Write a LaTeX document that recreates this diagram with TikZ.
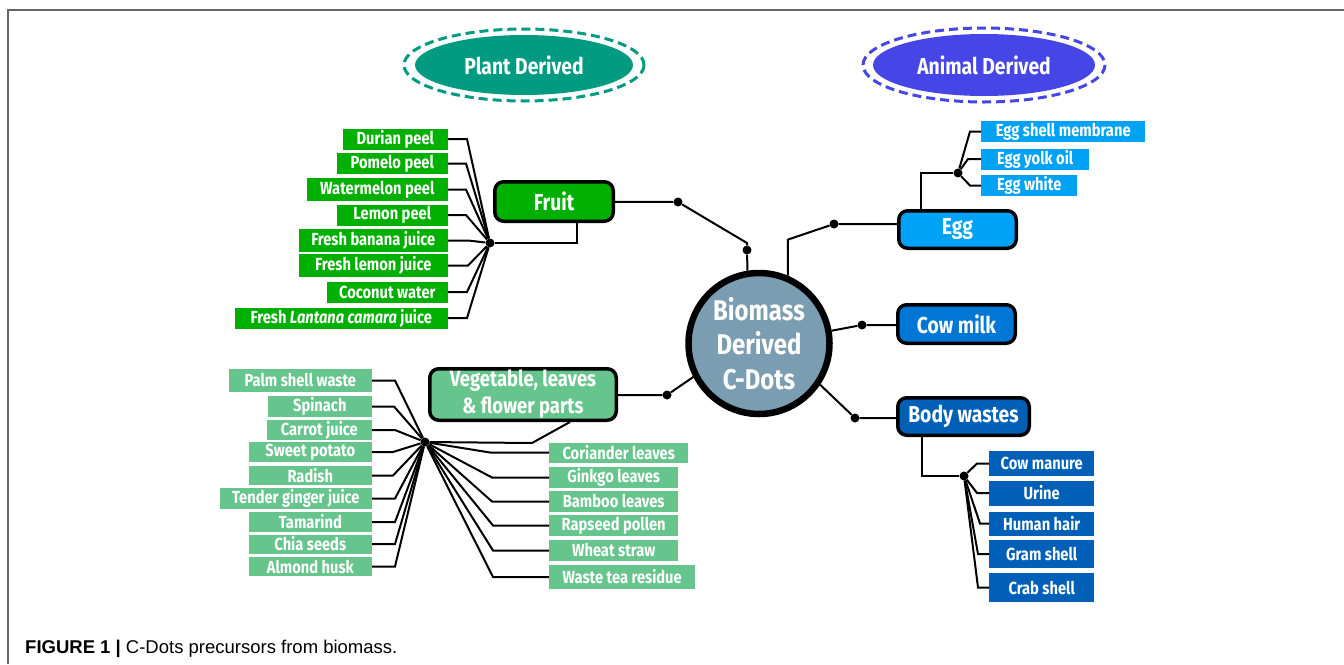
\documentclass[tikz,border=0pt]{standalone}
\usepackage{fontspec}
\setmainfont{Fira Sans}
\newfontfamily\figfont[FakeStretch=0.84]{Fira Sans}
\newfontfamily\capfont{Liberation Sans}
\usetikzlibrary{shapes.geometric}

\definecolor{plantcol}{HTML}{009B80}
\definecolor{animalcol}{HTML}{4646E6}
\definecolor{fruitcol}{HTML}{00B000}
\definecolor{vegcol}{HTML}{66C58C}
\definecolor{eggcol}{HTML}{00A2F5}
\definecolor{milkcol}{HTML}{0077D4}
\definecolor{bodycol}{HTML}{0060B8}
\definecolor{corecol}{HTML}{7A9DB2}

\tikzstyle{leaf} = [rectangle, inner sep=0pt, minimum height=21, text=white, font=\figfont\bfseries\fontsize{17.5}{17.5}\selectfont]
\tikzstyle{branch} = [rectangle, rounded corners=9, draw=black, line width=3.5, inner sep=0pt, text=white, font=\figfont\bfseries\fontsize{23}{23}\selectfont]
\tikzstyle{tag} = [ellipse, inner sep=0pt, minimum width=218, minimum height=60, text=white, font=\figfont\bfseries\fontsize{23}{23}\selectfont]
\tikzstyle{ring} = [line width=3, dash pattern=on 9 off 5]
\tikzstyle{joint} = [circle, fill=black, inner sep=0pt, minimum size=9]
\tikzstyle{link} = [line width=2]

\begin{document}
\begin{tikzpicture}[x=1pt,y=-1pt]
		\useasboundingbox (0,0) rectangle (1344,664);
		\draw[black!60, line width=1.5] (8,664) -- (8,10) -- (1344,10);
		% headings
		\draw[ring, draw=plantcol] (524,65) ellipse [x radius=120, y radius=36];
		\node[tag, fill=plantcol] (plant) at (524,65) {Plant Derived};
		\draw[ring, draw=animalcol] (984,65) ellipse [x radius=121, y radius=37];
		\node[tag, fill=animalcol, minimum width=222, minimum height=62] (animal) at (984,65) {Animal Derived};
		% centre and main groups
		\node[circle, draw=black, line width=6.5, fill=corecol, minimum size=141, inner sep=0pt, align=center, text=white, font=\figfont\bfseries\fontsize{28.5}{34.5}\selectfont] (core) at (759,343.5) {Biomass\\Derived\\C-Dots};
		\node[branch, fill=fruitcol, minimum width=118.5, minimum height=39.5] (fruit) at (554,201.5) {Fruit};
		\node[branch, fill=vegcol, minimum width=186.5, minimum height=51.5, align=center, font=\figfont\bfseries\fontsize{22}{27}\selectfont] (veg) at (523,394.5) {Vegetable, leaves\\\& flower parts};
		\node[branch, fill=eggcol, minimum width=117.5, minimum height=37.5] (egg) at (957.5,229.5) {Egg};
		\node[branch, fill=milkcol, minimum width=117.5, minimum height=38.5] (milk) at (956.5,324) {Cow milk};
		\node[branch, fill=bodycol, minimum width=131.5, minimum height=37.5] (body) at (963.5,416.5) {Body wastes};
		% fruit
		\node[leaf, fill=fruitcol, anchor=east, minimum width=105] (f1) at (448,139) {Durian peel};
		\node[leaf, fill=fruitcol, anchor=east, minimum width=111] (f2) at (448,163.5) {Pomelo peel};
		\node[leaf, fill=fruitcol, anchor=east, minimum width=141, minimum height=23] (f3) at (448,189.5) {Watermelon peel};
		\node[leaf, fill=fruitcol, anchor=east, minimum width=111] (f4) at (448,215) {Lemon peel};
		\node[leaf, fill=fruitcol, anchor=east, minimum width=149, minimum height=23] (f5) at (448,240.5) {Fresh banana juice};
		\node[leaf, fill=fruitcol, anchor=east, minimum width=149, minimum height=23] (f6) at (448,265.5) {Fresh lemon juice};
		\node[leaf, fill=fruitcol, anchor=east, minimum width=121] (f7) at (448,292) {Coconut water};
		\node[leaf, fill=fruitcol, anchor=east, minimum width=213] (f8) at (448,318) {Fresh \textit{Lantana camara} juice};
		% vegetable, leaves and flowers
		\node[leaf, fill=vegcol, anchor=east, minimum width=143, minimum height=23] (l1) at (372,380.5) {Palm shell waste};
		\node[leaf, fill=vegcol, anchor=east, minimum width=104] (l2) at (372,406.5) {Spinach};
		\node[leaf, fill=vegcol, anchor=east, minimum width=105, minimum height=20] (l3) at (372,430) {Carrot juice};
		\node[leaf, fill=vegcol, anchor=east, minimum width=123, minimum height=20] (l4) at (372,452) {Sweet potato};
		\node[leaf, fill=vegcol, anchor=east, minimum width=123, minimum height=19] (l5) at (372,475.5) {Radish};
		\node[leaf, fill=vegcol, anchor=east, minimum width=152] (l6) at (372,498.5) {Tender ginger juice};
		\node[leaf, fill=vegcol, anchor=east, minimum width=123, minimum height=20] (l7) at (372,522) {Tamarind};
		\node[leaf, fill=vegcol, anchor=east, minimum width=123, minimum height=19] (l8) at (372,544) {Chia seeds};
		\node[leaf, fill=vegcol, anchor=east, minimum width=123, minimum height=19] (l9) at (372,566.5) {Almond husk};
		\node[leaf, fill=vegcol, anchor=west, minimum width=139, minimum height=20] (r1) at (549,452.5) {Coriander leaves};
		\node[leaf, fill=vegcol, anchor=west, minimum width=129] (r2) at (549,477.5) {Ginkgo leaves};
		\node[leaf, fill=vegcol, anchor=west, minimum width=129] (r3) at (549,501.5) {Bamboo leaves};
		\node[leaf, fill=vegcol, anchor=west, minimum width=129] (r4) at (549,525.5) {Rapseed pollen};
		\node[leaf, fill=vegcol, anchor=west, minimum width=129] (r5) at (549,550.5) {Wheat straw};
		\node[leaf, fill=vegcol, anchor=west, minimum width=146, minimum height=24] (r6) at (549,577) {Waste tea residue};
		% egg
		\node[leaf, fill=eggcol, anchor=west, minimum width=164] (e1) at (981,131.5) {Egg shell membrane};
		\node[leaf, fill=eggcol, anchor=west, minimum width=108] (e2) at (981,159) {Egg yolk oil};
		\node[leaf, fill=eggcol, anchor=west, minimum width=96] (e3) at (981,185.5) {Egg white};
		% body wastes
		\node[leaf, fill=bodycol, anchor=west, minimum width=105, minimum height=25] (b1) at (989,463.5) {Cow manure};
		\node[leaf, fill=bodycol, anchor=west, minimum width=105, minimum height=25] (b2) at (989,493) {Urine};
		\node[leaf, fill=bodycol, anchor=west, minimum width=105, minimum height=24] (b3) at (989,523.5) {Human hair};
		\node[leaf, fill=bodycol, anchor=west, minimum width=105, minimum height=28] (b4) at (989,554) {Gram shell};
		\node[leaf, fill=bodycol, anchor=west, minimum width=105, minimum height=29] (b5) at (989,587.5) {Crab shell};
		% joints
		\node[joint] (fh) at (490,243) {};
		\node[joint] (vh) at (425,442) {};
		\node[joint] (eh) at (958,173) {};
		\node[joint] (bh) at (964,476) {};
		\node[joint] (j1) at (678,202) {};
		\node[joint] (j2) at (747,250) {};
		\node[joint] (j3) at (834,224) {};
		\node[joint] (j4) at (862,325) {};
		\node[joint] (j5) at (855,418) {};
		\node[joint] (j6) at (667,395) {};
		% links to the centre
		\draw[link] (fruit) -- (j1) -- ++(69,41) -- (j2) -- (core.99);
		\draw[link] (core.67) -- ++(0,-36) -- (j3) -- (j3 -| egg.west);
		\draw[link] (core.10) -- (j4) -- (j4 -| milk.west);
		\draw[link] (core.-34) -- (j5) -- (j5 -| body.west);
		\draw[link] (core.207) -- (j6) -- (j6 -| veg.east);
		% links to the groups
		\draw[link] (fh) -| ([xshift=23]fruit.south);
		\draw[link] (vh) -- ++(107,1) -- ([xshift=47]veg.south);
		\draw[link] (eh) -| ([xshift=-36.5]egg.north);
		\draw[link] (bh) -| ([xshift=-41.5]body.south);
		% links to the leaves
		\draw[link] (f1.east) -- ++(19,0) -- (fh);
		\draw[link] (f2.east) -- ++(18,0) -- (fh);
		\draw[link] (f3.east) -- ++(18,0) -- (fh);
		\draw[link] (f4.east) -- ++(18,0) -- (fh);
		\draw[link] (f5.east) -- ++(20,0) -- (fh);
		\draw[link] (f6.east) -- ++(20,0) -- (fh);
		\draw[link] (f7.east) -- ++(19,0) -- (fh);
		\draw[link] (f8.east) -- ++(19,0) -- (fh);
		\draw[link] (l1.east) -- ++(23,0) -- (vh);
		\draw[link] (l2.east) -- ++(22,0) -- (vh);
		\draw[link] (l3.east) -- ++(23,0) -- (vh);
		\draw[link] (l4.east) -- ++(21,0) -- (vh);
		\draw[link] (l5.east) -- ++(21,0) -- (vh);
		\draw[link] (l6.east) -- ++(23,0) -- (vh);
		\draw[link] (l7.east) -- ++(23,0) -- (vh);
		\draw[link] (l8.east) -- ++(23,0) -- (vh);
		\draw[link] (l9.east) -- ++(23,0) -- (vh);
		\draw[link] (r1.west) -- ++(-59,0) -- (vh);
		\draw[link] (r2.west) -- ++(-57,0) -- (vh);
		\draw[link] (r3.west) -- ++(-57,0) -- (vh);
		\draw[link] (r4.west) -- ++(-56,0) -- (vh);
		\draw[link] (r5.west) -- ++(-56,0) -- (vh);
		\draw[link] (r6.west) -- ++(-56,0) -- (vh);
		\draw[link] (e1.west) -- ++(-11,0) -- (eh);
		\draw[link] (e2.west) -- ++(-13,0) -- (eh);
		\draw[link] (e3.west) -- ++(-11,0) -- (eh);
		\draw[link] (b1.west) -- ++(-12,0) -- (bh);
		\draw[link] (b2.west) -- ++(-12,0) -- (bh);
		\draw[link] (b3.west) -- ++(-9,0) -- (bh);
		\draw[link] (b4.west) -- ++(-11,0) -- (bh);
		\draw[link] (b5.west) -- ++(-11,0) -- (bh);
		% caption
		\node[anchor=base west, inner sep=0pt, font=\capfont\fontsize{18.5}{18.5}\selectfont] (cap) at (25,653) {\textbf{FIGURE 1 |} C-Dots precursors from biomass.};
\end{tikzpicture}
\end{document}
